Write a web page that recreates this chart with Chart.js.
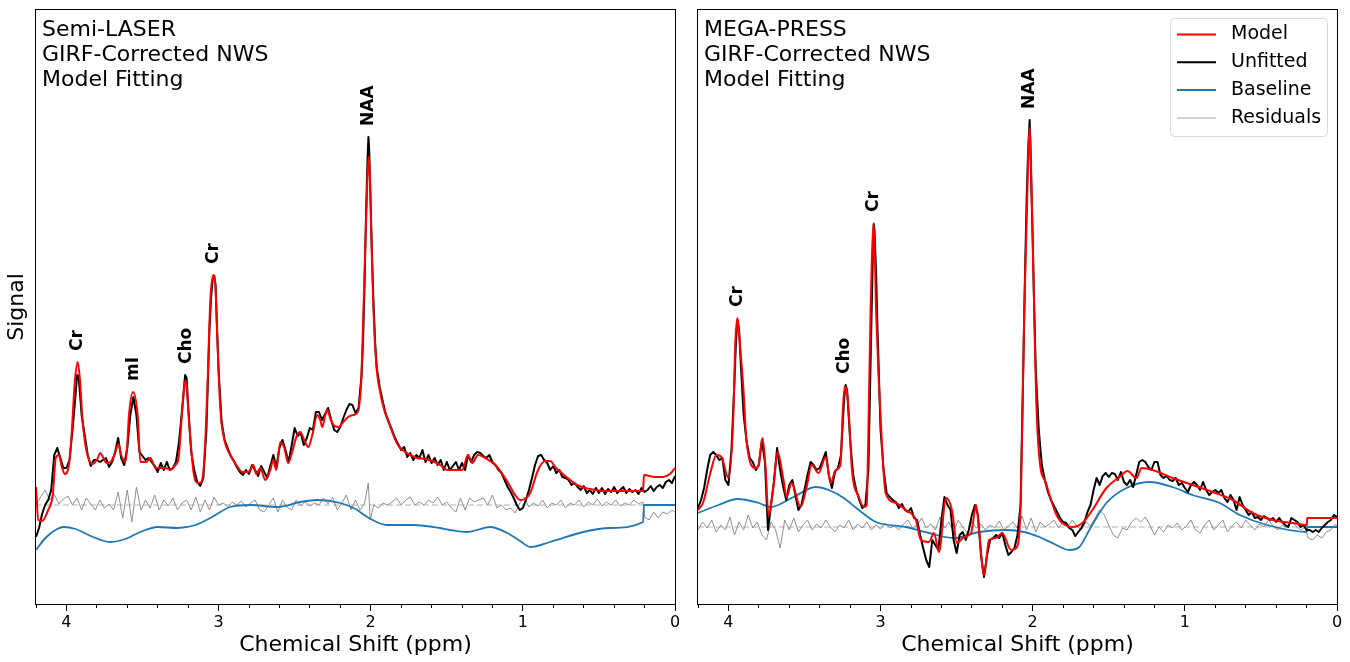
<!DOCTYPE html>
<html>
<head>
<meta charset="utf-8">
<title>GIRF-corrected NWS model fitting</title>
<script src="https://cdn.jsdelivr.net/npm/chart.js@4.4.1/dist/chart.umd.min.js"></script>
<style>
  html, body { margin: 0; padding: 0; background: #fff; }
  #wrap { position: relative; width: 1350px; height: 662px; overflow: hidden; }
  canvas { position: absolute; top: 0; }
  #laser { left: 0; }
  #mega { left: 680px; }
</style>
</head>
<body>
<div id="wrap">
  <canvas id="laser" width="690" height="662" style="width:690px;height:662px"></canvas>
  <canvas id="mega" width="670" height="662" style="width:670px;height:662px"></canvas>
</div>
<script>
// ppm ticks every 0.2, labels only on whole ppm
const ppmTicks = [0, 0.2, 0.4, 0.6, 0.8, 1, 1.2, 1.4, 1.6, 1.8, 2, 2.2, 2.4, 2.6, 2.8, 3, 3.2, 3.4, 3.6, 3.8, 4, 4.2];

const seriesNames = ["Model", "Unfitted", "Baseline", "Residuals"];

// ---- Semi-LASER panel: [ppm, signal] ----
const laserTitle = ["Semi-LASER", "GIRF-Corrected NWS", "Model Fitting"];
const laserPeaks = ["Cr", "mI", "Cho", "Cr", "NAA"];
const laserPeakPpm = [3.93, 3.56, 3.21, 3.03, 2.015];
const laserResidualZero = 99;

const laserModel = [[4.20,117],[4.185,84],[4.16,83],[4.12,94],[4.09,109],[4.07,146],[4.05,149],[4.03,137],[4.01,130],[3.99,134],[3.975,150],[3.96,185],[3.945,222],[3.926,242],[3.91,222],[3.895,185],[3.88,164],[3.86,148],[3.83,140],[3.80,144],[3.777,151],[3.757,146],[3.737,141],[3.71,142],[3.685,149],[3.658,160],[3.64,149],[3.612,142],[3.601,157],[3.59,187],[3.562,212],[3.531,187],[3.514,142],[3.474,142],[3.448,146],[3.415,136],[3.38,136],[3.35,136],[3.317,134],[3.284,139],[3.262,147],[3.24,191],[3.218,224],[3.19,174],[3.164,131],[3.133,121],[3.113,122],[3.094,144],[3.074,214],[3.054,304],[3.034,329],[3.021,319],[3.008,264],[2.988,194],[2.962,164],[2.923,149],[2.883,139],[2.844,132],[2.811,132],[2.791,134],[2.772,139],[2.752,130],[2.726,136],[2.693,124],[2.66,134],[2.64,144],[2.621,134],[2.594,162],[2.568,156],[2.542,141],[2.516,152],[2.489,167],[2.463,172],[2.437,164],[2.41,157],[2.384,169],[2.351,189],[2.332,184],[2.318,177],[2.299,189],[2.286,194],[2.266,186],[2.246,179],[2.213,177],[2.181,182],[2.148,187],[2.115,189],[2.089,191],[2.075,199],[2.062,224],[2.049,287],[2.036,354],[2.023,419],[2.014,447],[2.006,429],[1.996,369],[1.983,299],[1.963,239],[1.938,212],[1.911,194],[1.885,184],[1.859,172],[1.832,162],[1.806,156],[1.773,152],[1.741,149],[1.695,146],[1.642,145],[1.596,143],[1.543,139],[1.497,134],[1.445,134],[1.399,134],[1.36,149],[1.333,141],[1.294,149],[1.248,146],[1.169,137],[1.097,121],[1.051,109],[1.018,104],[0.985,105],[0.952,111],[0.90,134],[0.854,143],[0.821,143],[0.782,136],[0.722,128],[0.644,119],[0.558,115],[0.46,113],[0.328,113],[0.21,113],[0.204,129],[0.131,127],[0.079,127],[0.033,130],[0,136]];

const laserUnfitted = [[4.20,67],[4.18,76],[4.16,90],[4.14,99],[4.12,104],[4.10,114],[4.08,149],[4.06,156],[4.04,146],[4.02,136],[4.00,136],[3.98,144],[3.96,174],[3.94,209],[3.93,229],[3.92,228],[3.90,189],[3.88,169],[3.86,149],[3.84,138],[3.82,144],[3.80,144],[3.78,142],[3.76,144],[3.74,146],[3.72,137],[3.70,142],[3.68,152],[3.66,166],[3.64,146],[3.62,139],[3.60,156],[3.58,189],[3.56,207],[3.54,189],[3.52,152],[3.50,148],[3.48,144],[3.46,146],[3.44,142],[3.42,138],[3.40,132],[3.38,141],[3.36,134],[3.34,142],[3.32,134],[3.30,136],[3.28,142],[3.26,162],[3.24,194],[3.22,229],[3.21,226],[3.20,199],[3.18,152],[3.16,134],[3.14,122],[3.12,118],[3.10,126],[3.08,174],[3.06,274],[3.05,304],[3.04,324],[3.03,328],[3.02,319],[3.00,234],[2.98,182],[2.96,164],[2.94,156],[2.92,148],[2.90,143],[2.88,137],[2.86,132],[2.84,129],[2.82,134],[2.80,130],[2.78,139],[2.76,134],[2.74,128],[2.72,138],[2.70,132],[2.68,126],[2.66,138],[2.64,149],[2.62,137],[2.60,156],[2.58,164],[2.56,154],[2.54,142],[2.52,158],[2.50,176],[2.48,168],[2.46,171],[2.44,159],[2.42,166],[2.40,176],[2.38,174],[2.36,192],[2.34,192],[2.32,184],[2.30,190],[2.28,196],[2.26,184],[2.24,174],[2.22,172],[2.20,177],[2.18,186],[2.16,194],[2.14,200],[2.12,199],[2.10,191],[2.08,196],[2.06,229],[2.05,264],[2.04,324],[2.03,394],[2.02,449],[2.015,467],[2.01,454],[2.00,399],[1.99,339],[1.98,294],[1.97,259],[1.96,236],[1.94,216],[1.92,202],[1.90,189],[1.88,181],[1.86,174],[1.84,166],[1.82,160],[1.80,154],[1.78,157],[1.76,147],[1.74,151],[1.72,144],[1.70,149],[1.68,146],[1.66,154],[1.64,142],[1.62,149],[1.60,141],[1.58,146],[1.56,139],[1.54,144],[1.52,134],[1.50,142],[1.48,134],[1.46,138],[1.44,142],[1.42,134],[1.40,141],[1.38,134],[1.36,149],[1.34,142],[1.32,149],[1.30,152],[1.28,151],[1.26,148],[1.24,146],[1.22,149],[1.20,142],[1.18,139],[1.16,134],[1.14,131],[1.12,124],[1.10,117],[1.08,112],[1.06,106],[1.04,99],[1.02,94],[1.00,96],[0.98,104],[0.96,114],[0.94,126],[0.92,139],[0.90,148],[0.88,149],[0.86,144],[0.84,141],[0.82,134],[0.80,138],[0.78,131],[0.76,134],[0.74,127],[0.72,126],[0.70,124],[0.68,119],[0.66,121],[0.64,117],[0.62,114],[0.60,118],[0.58,111],[0.56,114],[0.54,110],[0.52,116],[0.50,111],[0.48,116],[0.46,110],[0.44,115],[0.42,112],[0.40,117],[0.38,111],[0.36,114],[0.34,117],[0.32,111],[0.30,115],[0.28,112],[0.26,114],[0.24,110],[0.22,116],[0.20,112],[0.18,114],[0.16,118],[0.14,113],[0.12,117],[0.10,119],[0.08,116],[0.06,122],[0.04,124],[0.02,121],[0,128]];

const laserBaseline = [[4.20,54],[4.138,66],[4.072,74],[4.02,77],[3.94,75],[3.84,68],[3.711,62],[3.612,65],[3.514,72],[3.40,77],[3.27,76],[3.15,79],[3.054,86],[2.923,97],[2.79,99],[2.614,97],[2.463,102],[2.351,104],[2.20,101],[2.10,95],[2.023,87],[1.892,79],[1.721,79],[1.543,76],[1.478,74],[1.366,72],[1.215,77],[1.103,71],[1.018,63],[0.952,57],[0.821,62],[0.604,72],[0.427,76],[0.21,82],[0.204,99],[0,99]];

const laserResiduals = [[4.20,99],[4.17,107],[4.14,114],[4.11,104],[4.08,110],[4.05,100],[4.02,105],[3.99,108],[3.96,99],[3.93,106],[3.90,94],[3.87,106],[3.84,100],[3.81,94],[3.78,104],[3.75,96],[3.72,100],[3.69,94],[3.66,112],[3.63,86],[3.60,114],[3.57,82],[3.54,117],[3.51,94],[3.48,104],[3.45,96],[3.42,109],[3.39,94],[3.36,104],[3.33,98],[3.30,106],[3.27,94],[3.24,101],[3.21,104],[3.18,94],[3.15,107],[3.12,92],[3.09,104],[3.06,94],[3.03,107],[3.00,99],[2.97,101],[2.94,97],[2.91,102],[2.88,99],[2.85,103],[2.82,97],[2.79,101],[2.76,104],[2.73,94],[2.70,92],[2.67,99],[2.64,106],[2.61,92],[2.58,104],[2.55,97],[2.52,94],[2.49,104],[2.46,98],[2.43,102],[2.40,98],[2.37,101],[2.34,99],[2.31,106],[2.28,100],[2.25,107],[2.22,94],[2.19,101],[2.16,109],[2.13,94],[2.10,104],[2.07,94],[2.04,101],[2.016,121],[2.003,84],[1.98,99],[1.95,96],[1.92,101],[1.89,99],[1.86,102],[1.83,106],[1.80,99],[1.77,104],[1.74,107],[1.71,99],[1.68,102],[1.65,99],[1.62,104],[1.59,101],[1.56,107],[1.53,99],[1.50,102],[1.47,96],[1.44,92],[1.41,106],[1.38,94],[1.35,106],[1.32,102],[1.29,104],[1.26,106],[1.23,99],[1.20,109],[1.17,96],[1.14,99],[1.11,94],[1.08,96],[1.05,91],[1.02,101],[0.99,107],[0.96,97],[0.93,101],[0.90,98],[0.87,104],[0.84,96],[0.81,101],[0.78,99],[0.75,104],[0.72,96],[0.69,101],[0.66,99],[0.63,104],[0.60,97],[0.57,102],[0.54,99],[0.51,105],[0.48,98],[0.45,102],[0.42,99],[0.39,104],[0.36,98],[0.33,101],[0.30,99],[0.27,104],[0.24,100],[0.21,102],[0.20,87],[0.17,84],[0.14,92],[0.11,86],[0.08,92],[0.05,90],[0.02,94],[0,92]];

// ---- MEGA-PRESS panel: [ppm, signal] ----
const megaTitle = ["MEGA-PRESS", "GIRF-Corrected NWS", "Model Fitting"];
const megaPeaks = ["Cr", "Cho", "Cr", "NAA"];
const megaPeakPpm = [3.94, 3.235, 3.045, 2.02];
const megaResidualZero = 77;

const megaModel = [[4.20,94],[4.165,102],[4.119,131],[4.079,149],[4.046,147],[4.00,126],[3.967,191],[3.956,257],[3.941,286],[3.923,257],[3.901,214],[3.882,164],[3.822,136],[3.802,139],[3.776,166],[3.756,137],[3.737,89],[3.704,117],[3.677,152],[3.638,124],[3.618,107],[3.585,121],[3.526,97],[3.486,117],[3.453,139],[3.407,131],[3.361,147],[3.328,121],[3.295,134],[3.264,139],[3.249,191],[3.236,217],[3.223,214],[3.209,191],[3.188,134],[3.143,107],[3.11,97],[3.091,99],[3.082,157],[3.066,291],[3.045,381],[3.029,291],[3.012,224],[2.99,157],[2.967,111],[2.90,101],[2.834,94],[2.768,84],[2.735,64],[2.682,62],[2.649,71],[2.616,52],[2.57,106],[2.531,94],[2.498,61],[2.451,67],[2.405,71],[2.372,99],[2.353,74],[2.32,29],[2.287,64],[2.241,66],[2.201,71],[2.142,54],[2.109,56],[2.078,104],[2.056,291],[2.04,384],[2.02,476],[2.003,384],[1.99,291],[1.977,204],[1.957,147],[1.913,121],[1.837,87],[1.74,77],[1.674,81],[1.608,94],[1.516,116],[1.43,127],[1.377,133],[1.318,126],[1.285,136],[1.213,134],[1.081,126],[0.949,119],[0.817,112],[0.685,104],[0.554,91],[0.422,84],[0.29,81],[0.198,79],[0.196,86],[0,86]];

const megaUnfitted = [[4.20,96],[4.18,104],[4.16,116],[4.14,134],[4.12,149],[4.10,152],[4.08,149],[4.06,144],[4.04,146],[4.02,124],[4.00,119],[3.98,154],[3.96,224],[3.95,264],[3.94,284],[3.93,274],[3.92,244],[3.90,189],[3.88,162],[3.86,146],[3.84,142],[3.82,134],[3.80,139],[3.78,164],[3.76,142],[3.74,74],[3.72,99],[3.70,124],[3.68,156],[3.66,134],[3.64,117],[3.62,104],[3.60,119],[3.58,124],[3.56,109],[3.54,94],[3.52,99],[3.50,114],[3.48,129],[3.46,142],[3.44,139],[3.42,134],[3.40,136],[3.38,144],[3.36,152],[3.34,129],[3.32,116],[3.30,132],[3.28,136],[3.26,149],[3.24,204],[3.23,219],[3.22,214],[3.20,164],[3.18,129],[3.16,114],[3.14,104],[3.12,96],[3.10,99],[3.08,134],[3.06,284],[3.05,354],[3.045,380],[3.04,374],[3.03,334],[3.02,274],[3.00,174],[2.98,134],[2.96,111],[2.94,107],[2.92,104],[2.90,102],[2.88,96],[2.86,100],[2.84,94],[2.82,92],[2.80,96],[2.78,86],[2.76,84],[2.74,69],[2.72,56],[2.70,44],[2.68,37],[2.66,64],[2.64,59],[2.62,54],[2.60,84],[2.58,107],[2.56,99],[2.54,94],[2.52,64],[2.50,51],[2.48,69],[2.46,72],[2.44,64],[2.42,74],[2.40,89],[2.38,99],[2.36,89],[2.34,49],[2.32,27],[2.30,49],[2.28,64],[2.26,66],[2.24,69],[2.22,66],[2.20,71],[2.18,59],[2.16,49],[2.14,52],[2.12,56],[2.10,69],[2.08,99],[2.06,254],[2.05,334],[2.04,404],[2.03,454],[2.02,484],[2.01,424],[2.00,364],[1.99,294],[1.98,234],[1.96,174],[1.94,139],[1.92,124],[1.90,112],[1.88,104],[1.86,98],[1.84,92],[1.82,86],[1.80,82],[1.78,81],[1.76,76],[1.74,74],[1.72,68],[1.70,72],[1.68,76],[1.66,82],[1.64,92],[1.62,99],[1.60,114],[1.58,126],[1.56,119],[1.54,128],[1.52,131],[1.50,127],[1.48,131],[1.46,130],[1.44,124],[1.42,132],[1.40,122],[1.38,119],[1.36,124],[1.34,117],[1.32,129],[1.30,142],[1.28,144],[1.26,142],[1.24,137],[1.22,134],[1.20,142],[1.18,142],[1.16,129],[1.14,126],[1.12,128],[1.10,124],[1.08,123],[1.06,126],[1.04,119],[1.02,121],[1.00,116],[0.98,112],[0.96,119],[0.94,122],[0.92,119],[0.90,114],[0.88,122],[0.86,114],[0.84,109],[0.82,112],[0.80,114],[0.78,111],[0.76,114],[0.74,106],[0.72,102],[0.70,109],[0.68,104],[0.66,94],[0.64,107],[0.62,99],[0.60,94],[0.58,89],[0.56,92],[0.54,86],[0.52,87],[0.50,84],[0.48,88],[0.46,86],[0.44,84],[0.42,86],[0.40,82],[0.38,86],[0.36,82],[0.34,79],[0.32,77],[0.30,86],[0.28,84],[0.26,82],[0.24,77],[0.22,79],[0.20,74],[0.18,74],[0.16,72],[0.14,74],[0.12,72],[0.10,76],[0.08,79],[0.06,82],[0.04,84],[0.02,89],[0,87]];

const megaBaseline = [[4.20,91],[4.066,99],[3.941,105],[3.80,101],[3.723,97],[3.572,107],[3.427,117],[3.34,114],[3.242,106],[3.143,94],[3.031,82],[2.834,77],[2.682,71],[2.517,66],[2.353,72],[2.175,74],[2.056,72],[1.957,67],[1.858,60],[1.76,54],[1.694,57],[1.628,74],[1.516,101],[1.384,116],[1.232,122],[1.081,117],[0.949,109],[0.771,101],[0.639,89],[0.461,79],[0.198,72],[0.196,77],[0,77]];

const megaResiduals = [[4.20,74],[4.17,82],[4.14,76],[4.11,84],[4.08,72],[4.05,79],[4.02,74],[3.99,87],[3.96,69],[3.93,82],[3.90,74],[3.87,89],[3.84,76],[3.81,82],[3.78,69],[3.75,64],[3.72,82],[3.69,74],[3.66,56],[3.63,84],[3.60,74],[3.57,86],[3.54,72],[3.51,79],[3.48,84],[3.45,74],[3.42,80],[3.39,76],[3.36,84],[3.33,77],[3.30,72],[3.27,79],[3.24,76],[3.21,84],[3.18,74],[3.15,80],[3.12,76],[3.09,82],[3.06,74],[3.03,79],[3.00,75],[2.97,81],[2.94,76],[2.91,78],[2.88,74],[2.85,80],[2.82,84],[2.79,76],[2.76,79],[2.73,86],[2.70,76],[2.67,80],[2.64,74],[2.61,87],[2.58,76],[2.55,82],[2.52,72],[2.49,84],[2.46,77],[2.43,71],[2.40,82],[2.37,76],[2.34,80],[2.31,74],[2.28,79],[2.25,76],[2.22,83],[2.19,74],[2.16,78],[2.13,82],[2.10,76],[2.07,88],[2.04,74],[2.01,86],[1.98,72],[1.95,82],[1.92,77],[1.89,80],[1.86,84],[1.83,76],[1.80,82],[1.77,77],[1.74,84],[1.71,78],[1.68,74],[1.65,82],[1.62,78],[1.59,86],[1.56,94],[1.53,89],[1.50,79],[1.47,69],[1.44,66],[1.41,76],[1.38,74],[1.35,82],[1.32,86],[1.29,82],[1.26,87],[1.23,79],[1.20,69],[1.17,77],[1.14,72],[1.11,79],[1.08,76],[1.05,81],[1.02,74],[0.99,78],[0.96,84],[0.93,74],[0.90,71],[0.87,79],[0.84,84],[0.81,74],[0.78,79],[0.75,84],[0.72,72],[0.69,78],[0.66,82],[0.63,76],[0.60,84],[0.57,79],[0.54,74],[0.51,80],[0.48,77],[0.45,84],[0.42,78],[0.39,74],[0.36,79],[0.33,76],[0.30,82],[0.27,78],[0.24,74],[0.21,77],[0.19,66],[0.16,64],[0.13,69],[0.10,66],[0.07,72],[0.04,74],[0.01,80],[0,77]];

const lineColors = ["#ff0000", "#000000", "#1f77b4", "#8f8f8f"];
const legendColors = ["#ff0000", "#000000", "#1f77b4", "#c4c4c4"];
const FONT = "'DejaVu Sans', 'Liberation Sans', sans-serif";

function toXY(pts) {
  return pts.map(p => ({ x: p[0], y: p[1] }));
}

function isWhole(v) {
  return Math.abs(v - Math.round(v)) < 1e-6;
}

// frame, panel text, peak names and (optionally) the legend box
const decorPlugin = {
  id: "decor",
  afterDatasetsDraw(chart, args, o) {
    const { ctx, chartArea: a, scales: { x, y } } = chart;
    ctx.save();

    ctx.strokeStyle = "#000";
    ctx.lineWidth = 1;
    ctx.strokeRect(a.left - 0.5, a.top - 0.5, a.right - a.left + 1, a.bottom - a.top + 1);

    ctx.fillStyle = "#000";
    ctx.font = "22px " + FONT;
    ctx.textAlign = "left";
    ctx.textBaseline = "middle";
    o.title.forEach((t, i) => ctx.fillText(t, a.left + 6, a.top + 20 + i * 25));

    // peak names sit just above the tallest of model / unfitted near that shift
    ctx.font = "bold 17px " + FONT;
    o.peaks.forEach((name, i) => {
      const ppm = o.peakPpm[i];
      let top = 0;
      [o.model, o.unfitted].forEach(s => s.forEach(p => {
        if (Math.abs(p[0] - ppm) <= 0.012 && p[1] > top) top = p[1];
      }));
      const px = x.getPixelForValue(ppm);
      const py = y.getPixelForValue(top) - 11;
      ctx.save();
      ctx.translate(px, py);
      ctx.rotate(-Math.PI / 2);
      ctx.textAlign = "left";
      ctx.textBaseline = "middle";
      ctx.fillText(name, 0, 0);
      ctx.restore();
    });

    if (o.legend) {
      const w = 157, h = 118;
      const lx = a.right - 10 - w, ly = a.top + 8.5;
      ctx.beginPath();
      ctx.roundRect(lx + 0.5, ly, w, h, 4);
      ctx.fillStyle = "rgba(255,255,255,0.85)";
      ctx.fill();
      ctx.strokeStyle = "#d6d6d6";
      ctx.lineWidth = 1;
      ctx.stroke();
      ctx.font = "19px " + FONT;
      ctx.textBaseline = "middle";
      seriesNames.forEach((n, i) => {
        const ry = ly + 16 + i * 27.8;
        ctx.beginPath();
        ctx.moveTo(lx + 7, ry);
        ctx.lineTo(lx + 46, ry);
        ctx.strokeStyle = legendColors[i];
        ctx.lineWidth = i === 3 ? 1.5 : 2;
        ctx.stroke();
        ctx.fillStyle = "#000";
        ctx.fillText(n, lx + 61, ry);
      });
    }
    ctx.restore();
  }
};

function makePanel(id, d) {
  const zero = [{ x: 4.2, y: d.zero }, { x: 0, y: d.zero }];
  return new Chart(document.getElementById(id), {
    type: "line",
    data: {
      datasets: [
        { label: "Model", data: toXY(d.model), borderColor: lineColors[0], borderWidth: 2, cubicInterpolationMode: "monotone", order: 1 },
        { label: "Unfitted", data: toXY(d.unfitted), borderColor: lineColors[1], borderWidth: 2, order: 2 },
        { label: "Baseline", data: toXY(d.baseline), borderColor: lineColors[2], borderWidth: 1.8, cubicInterpolationMode: "monotone", order: 3 },
        { label: "Residuals", data: toXY(d.residuals), borderColor: lineColors[3], borderWidth: 1, order: 4 },
        { label: "zero", data: zero, borderColor: "#b3b3b3", borderWidth: 1, borderDash: [6, 3], order: 5 }
      ]
    },
    options: {
      responsive: false,
      animation: false,
      events: [],
      layout: { padding: { top: 10, right: d.padRight, left: 0, bottom: 0 } },
      elements: { point: { radius: 0 }, line: { tension: 0, borderJoinStyle: "round" } },
      plugins: {
        legend: { display: false },
        tooltip: { enabled: false },
        decor: d
      },
      scales: {
        x: {
          type: "linear",
          reverse: true,
          min: 0,
          max: 4.2,
          afterBuildTicks: s => { s.ticks = ppmTicks.map(v => ({ value: v })); },
          afterFit: s => { s.height = 58; },
          ticks: {
            autoSkip: false,
            maxRotation: 0,
            padding: 2,
            color: "#000",
            font: { family: FONT, size: 16 },
            callback: v => (isWhole(v) ? String(Math.round(v)) : "")
          },
          grid: {
            drawOnChartArea: false,
            drawTicks: true,
            tickLength: 7,
            color: "#000",
            lineWidth: 1,
            // minor ticks are shorter: only the first 4px of the mark is drawn
            tickBorderDash: c => (c.tick && isWhole(c.tick.value) ? [] : [4, 20])
          },
          border: { display: false },
          title: {
            display: true,
            text: "Chemical Shift (ppm)",
            color: "#000",
            font: { family: FONT, size: 22 },
            padding: { top: 0, bottom: 4 }
          }
        },
        y: {
          min: 0,
          max: 594,
          afterFit: s => { s.width = d.yWidth; },
          ticks: { display: false },
          grid: { display: false },
          border: { display: false },
          title: {
            display: !!d.yTitle,
            text: d.yTitle || "",
            color: "#000",
            font: { family: FONT, size: 22 },
            padding: { top: 4, bottom: 0 }
          }
        }
      }
    },
    plugins: [decorPlugin]
  });
}

makePanel("laser", {
  title: laserTitle, peaks: laserPeaks, peakPpm: laserPeakPpm,
  model: laserModel, unfitted: laserUnfitted, baseline: laserBaseline,
  residuals: laserResiduals, zero: laserResidualZero,
  yTitle: "Signal", yWidth: 36, padRight: 15, legend: false
});

makePanel("mega", {
  title: megaTitle, peaks: megaPeaks, peakPpm: megaPeakPpm,
  model: megaModel, unfitted: megaUnfitted, baseline: megaBaseline,
  residuals: megaResiduals, zero: megaResidualZero,
  yTitle: "", yWidth: 18, padRight: 13, legend: true
});
</script>
</body>
</html>
